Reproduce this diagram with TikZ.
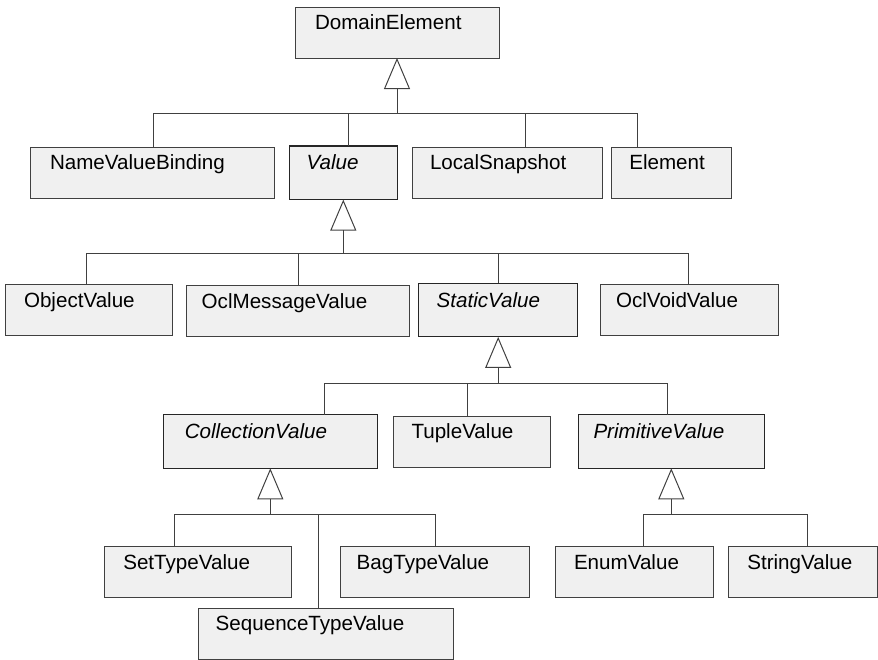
\documentclass[tikz,border=0pt]{standalone}
\usepackage{fontspec}
\setmainfont{Liberation Sans}
\usetikzlibrary{arrows.meta}
\definecolor{boxgray}{HTML}{F0F0F0}
\definecolor{linegray}{HTML}{404040}
\newcommand{\clsfont}{\fontsize{20.6}{24}\selectfont}

\begin{document}
\begin{tikzpicture}[x=1pt,y=-1pt,line width=1pt]
  \tikzstyle{cls}=[draw=linegray,fill=boxgray,anchor=north west,outer sep=0pt,
                   inner ysep=0pt,inner xsep=18pt,align=left,
                   text height=22.5pt,text depth=28.5pt,font=\clsfont]
  \tikzstyle{abstr}=[draw=black!85,line width=1.1pt,text height=23.8pt,
                     text depth=29.8pt,font=\clsfont\itshape]
  \tikzstyle{every edge}=[draw=linegray]
  \tikzstyle{gen}=[-{Triangle[open,length=31pt,width=26pt]}]
  \tikzstyle{drop}=[to path={-| (\tikztotarget)}]

  \useasboundingbox (0,0) rectangle (878,659);

	\node[cls, text width=164pt, inner xsep=20pt]		(dom)	at (295,7)	{DomainElement};

	\node[cls, text width=204pt, inner xsep=20pt]		(nvb)	at (30,147.3)	{NameValueBinding};
	\node[cls, abstr, text width=73.2pt, inner xsep=17.4pt]	(val)	at (289.3,146)	{Value};
	\node[cls, text width=155pt, inner xsep=17.3pt]		(snap)	at (412.7,147.3)	{LocalSnapshot};
	\node[cls, text width=84.4pt, inner xsep=17.6pt]	(elem)	at (611.7,147.3)	{Element};

	\node[cls, text width=130pt, inner xsep=18.3pt]		(obj)	at (5.7,284.7)	{ObjectValue};
	\node[cls, text width=192.2pt, inner xsep=15.4pt]	(msg)	at (186.3,285.5)	{OclMessageValue};
	\node[cls, abstr, text width=123pt]			(stat)	at (418.7,283.3)	{StaticValue};
	\node[cls, text width=147pt, inner xsep=15.3pt]		(void)	at (600.7,284.7)	{OclVoidValue};

	\node[cls, abstr, text width=171pt, inner xsep=21.5pt]	(coll)	at (163.3,414.7)	{CollectionValue};
	\node[cls, text width=120.6pt, inner xsep=18.2pt]	(tup)	at (393.3,416)	{TupleValue};
	\node[cls, abstr, text width=155.6pt, inner xsep=15.2pt]	(prim)	at (578.3,414.7)	{PrimitiveValue};

	\node[cls, text width=148.7pt, inner xsep=19pt]		(set)	at (104.3,546.7)	{SetTypeValue};
	\node[cls, text width=156.6pt, inner xsep=16pt]		(bag)	at (340.7,546.7)	{BagTypeValue};
	\node[cls, text width=220.6pt, inner xsep=17pt]		(seq)	at (198.7,608)	{SequenceTypeValue};
	\node[cls, text width=120.3pt, inner xsep=18.7pt]	(enum)	at (555.3,546.7)	{EnumValue};
	\node[cls, text width=111.4pt, inner xsep=19pt]		(str)	at (728.3,546.7)	{StringValue};

	% junctions on the buses
	\coordinate (j1) at (dom.south |- 0,113);
	\coordinate (j2) at (val.south |- 0,253.7);
	\coordinate (j3) at (stat.south |- 0,383.7);
	\coordinate (j4) at (coll.south |- 0,514.7);
	\coordinate (j5) at (prim.south |- 0,514.7);

	\path
		(j1) edge[gen]		(dom.south)
		     edge[drop]		([xshift=1pt]nvb.north)
		     edge[drop]		([xshift=5.4pt]val.north)
		     edge[drop]		([xshift=17.5pt]snap.north)
		     edge[drop]		([xshift=-34.5pt]elem.north)
		(j2) edge[gen]		(val.south)
		     edge[drop]		([xshift=-2.7pt]obj.north)
		     edge[drop]		([xshift=0.7pt]msg.north)
		     edge[drop]		(stat.north)
		     edge[drop]		([xshift=-0.8pt]void.north)
		(j3) edge[gen]		(stat.south)
		     edge[drop]		([xshift=54pt]coll.north)
		     edge[drop]		([xshift=-4.5pt]tup.north)
		     edge[drop]		([xshift=-3.6pt]prim.north)
		(j4) edge[gen]		(coll.south)
		     edge[drop]		([xshift=-23.4pt]set.north)
		     edge[drop]		(bag.north)
		     edge[drop]		([xshift=-7.3pt]seq.north)
		(j5) edge[gen]		(prim.south)
		     edge[drop]		([xshift=9.1pt]enum.north)
		     edge[drop]		([xshift=4.3pt]str.north);

\end{tikzpicture}
\end{document}
